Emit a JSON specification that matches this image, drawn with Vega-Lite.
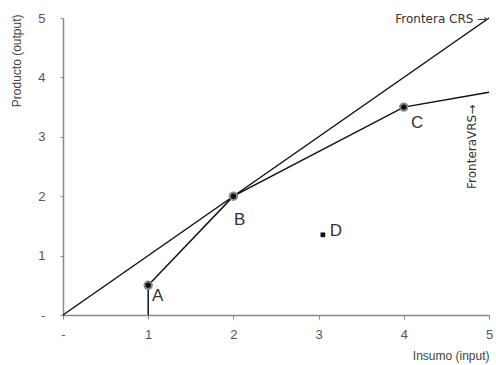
{
  "$schema": "https://vega.github.io/schema/vega-lite/v6.json",
  "width": 426,
  "height": 297,
  "autosize": "none",
  "padding": {"left": 63, "top": 18, "right": 7, "bottom": 50},
  "background": "white",
  "config": {"view": {"stroke": null}, "font": "Liberation Sans"},
  "datasets": {
    "lines": [
      {"serie": "CRS", "ord": 1, "x": 0, "y": 0},
      {"serie": "CRS", "ord": 2, "x": 5, "y": 5},
      {"serie": "VRS", "ord": 1, "x": 1, "y": 0},
      {"serie": "VRS", "ord": 2, "x": 1, "y": 0.5},
      {"serie": "VRS", "ord": 3, "x": 2, "y": 2},
      {"serie": "VRS", "ord": 4, "x": 4, "y": 3.5},
      {"serie": "VRS", "ord": 5, "x": 5, "y": 3.75}
    ],
    "dmus": [
      {"dmu": "A", "x": 1, "y": 0.5, "lx": 1.045, "ly": 0.32},
      {"dmu": "B", "x": 2, "y": 2, "lx": 2.007, "ly": 1.6},
      {"dmu": "C", "x": 4, "y": 3.5, "lx": 4.085, "ly": 3.23}
    ],
    "ineff": [
      {"dmu": "D", "x": 3.05, "y": 1.35, "lx": 3.13, "ly": 1.41}
    ],
    "notes": [
      {"txt": "Frontera CRS →", "x": 4.98, "y": 4.98, "ang": 0},
      {"txt": "FronteraVRS→", "x": 4.8, "y": 3.54, "ang": 270}
    ]
  },
  "layer": [
    {
      "data": {"name": "lines"},
      "mark": {"type": "line", "color": "#111", "strokeWidth": 1.5},
      "encoding": {
        "x": {
          "field": "x", "type": "quantitative",
          "scale": {"domain": [0, 5], "nice": false},
          "axis": {
            "values": [0, 1, 2, 3, 4, 5],
            "format": "d",
            "labelExpr": "datum.value == 0 ? '-' : datum.label",
            "grid": false,
            "domainColor": "#888", "domainWidth": 1.5,
            "tickColor": "#888", "tickSize": 4,
            "labelColor": "#555", "labelFontSize": 13, "labelPadding": 9,
            "labelFlush": false,
            "title": "Insumo (input)", "titleAnchor": "end", "titleAlign": "right",
            "titleFontSize": 12, "titleFontWeight": "normal", "titleColor": "#444",
            "titlePadding": 9
          }
        },
        "y": {
          "field": "y", "type": "quantitative",
          "scale": {"domain": [0, 5], "nice": false},
          "axis": {
            "values": [0, 1, 2, 3, 4, 5],
            "format": "d",
            "labelExpr": "datum.value == 0 ? '-' : datum.label",
            "grid": false,
            "domainColor": "#888", "domainWidth": 1.5,
            "tickColor": "#888", "tickSize": 3,
            "labelColor": "#555", "labelFontSize": 13, "labelPadding": 15,
            "labelFlush": false,
            "title": "Producto (output)", "titleAnchor": "end", "titleAlign": "right",
            "titleBaseline": "middle", "titleX": -47, "titleY": -4, "titleAngle": 270,
            "titleFontSize": 12, "titleFontWeight": "normal", "titleColor": "#444"
          }
        },
        "detail": {"field": "serie"},
        "order": {"field": "ord"}
      }
    },
    {
      "data": {"name": "dmus"},
      "mark": {"type": "point", "shape": "circle", "filled": true, "fill": "#111", "stroke": "#888", "strokeWidth": 2, "size": 55, "opacity": 1},
      "encoding": {
        "x": {"field": "x", "type": "quantitative"},
        "y": {"field": "y", "type": "quantitative"}
      }
    },
    {
      "data": {"name": "ineff"},
      "mark": {"type": "square", "color": "#111", "size": 22, "opacity": 1},
      "encoding": {
        "x": {"field": "x", "type": "quantitative"},
        "y": {"field": "y", "type": "quantitative"}
      }
    },
    {
      "data": {"name": "dmus"},
      "mark": {"type": "text", "align": "left", "baseline": "middle", "fontSize": 17, "color": "#333"},
      "encoding": {
        "x": {"field": "lx", "type": "quantitative"},
        "y": {"field": "ly", "type": "quantitative"},
        "text": {"field": "dmu"}
      }
    },
    {
      "data": {"name": "ineff"},
      "mark": {"type": "text", "align": "left", "baseline": "middle", "fontSize": 17, "color": "#333"},
      "encoding": {
        "x": {"field": "lx", "type": "quantitative"},
        "y": {"field": "ly", "type": "quantitative"},
        "text": {"field": "dmu"}
      }
    },
    {
      "data": {"name": "notes"},
      "mark": {"type": "text", "align": "right", "baseline": "middle", "fontSize": 12, "color": "#333", "font": "DejaVu Sans"},
      "encoding": {
        "x": {"field": "x", "type": "quantitative"},
        "y": {"field": "y", "type": "quantitative"},
        "text": {"field": "txt"},
        "angle": {"field": "ang", "type": "quantitative", "scale": null}
      }
    }
  ]
}
